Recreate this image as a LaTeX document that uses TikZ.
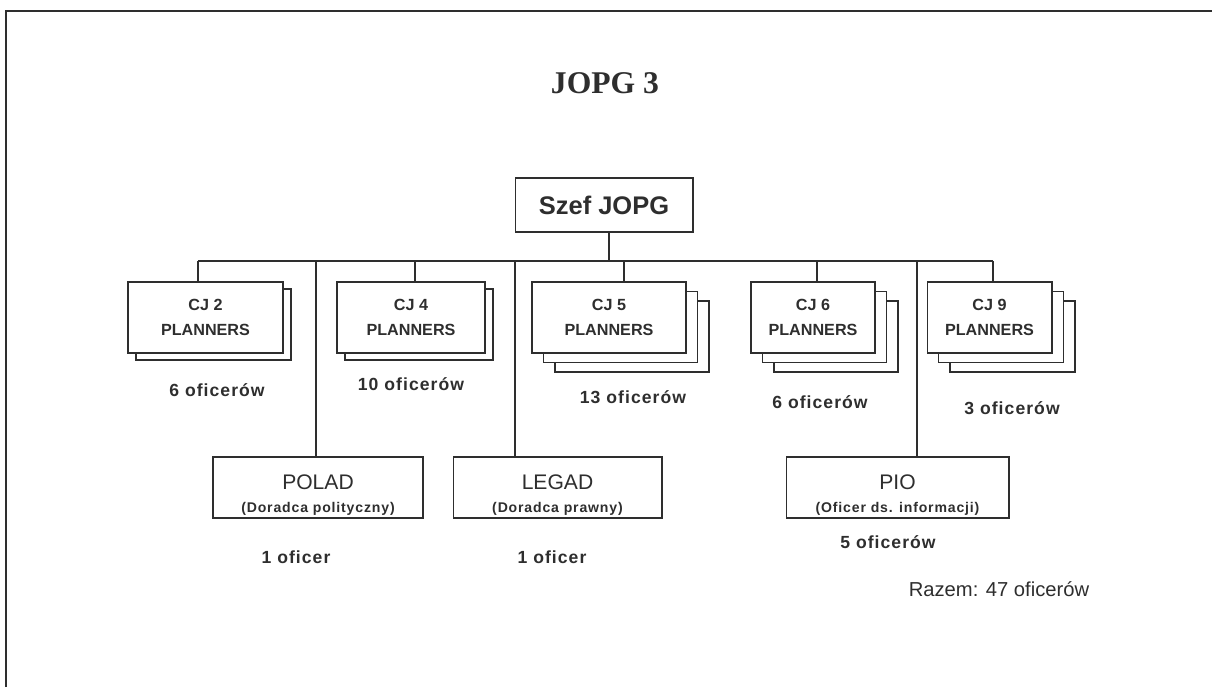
\documentclass[tikz,border=0pt]{standalone}
\usepackage{fontspec}
\setmainfont{Liberation Sans}
\newfontfamily\titlefont{Liberation Serif}
\newfontfamily\widesans[LetterSpace=6]{Liberation Sans}
\usetikzlibrary{shadows}
\definecolor{ink}{HTML}{2E2E2E}

\begin{document}
\begin{tikzpicture}[x=0.02cm,y=-0.02cm,
		link/.style={draw=ink, line width=0.6pt},
		planbox/.style={draw=ink, line width=0.6pt, fill=white, align=center, inner sep=0pt,
			minimum height=1.42cm, text=ink, font=\fontsize{9.2}{14}\selectfont\bfseries},
		advbox/.style={draw=ink, line width=0.6pt, fill=white, align=center, inner sep=0pt,
			minimum height=1.22cm, text=ink},
		stack/.style={copy shadow={shadow xshift=0.16cm, shadow yshift=-0.14cm}},
		stackthree/.style={double copy shadow={shadow xshift=0.23cm, shadow yshift=-0.19cm}},
		count/.style={text=ink, font=\widesans\fontsize{10}{12}\selectfont\bfseries}]
	\useasboundingbox (0,0) rectangle (1212,687);
	\draw[ink, line width=0.8pt] (6,687) -- (6,11) -- (1212,11);

	\node[text=ink, font=\titlefont\bfseries\fontsize{18}{20}\selectfont] (title) at (605,83) {JOPG 3};
	\node[draw=ink, line width=0.6pt, minimum width=3.56cm, minimum height=1.08cm, text=ink,
		font=\fontsize{14.5}{16}\selectfont\bfseries] (szef) at (604,205) {Szef JOPG};

	% planners
	\node[planbox, stack, minimum width=3.1cm]       (cj2) at (205.5,317.5) {CJ 2\\PLANNERS};
	\node[planbox, stack, minimum width=2.96cm]      (cj4) at (411,317.5)   {CJ 4\\PLANNERS};
	\node[planbox, stackthree, minimum width=3.08cm] (cj5) at (609,317.5)   {CJ 5\\PLANNERS};
	\node[planbox, stackthree, minimum width=2.48cm] (cj6) at (813,317.5)   {CJ 6\\PLANNERS};
	\node[planbox, stackthree, minimum width=2.5cm]  (cj9) at (989.5,317.5) {CJ 9\\PLANNERS};

	% advisers
	\node[advbox, minimum width=4.2cm]  (polad) at (318,487.5)
		{{\fontsize{12}{14}\selectfont\rule{0pt}{17pt}POLAD}\\[1pt]{\widesans\fontsize{8}{10}\selectfont\bfseries (Doradca polityczny)}};
	\node[advbox, minimum width=4.18cm] (legad) at (557.5,487.5)
		{{\fontsize{12}{14}\selectfont\rule{0pt}{17pt}LEGAD}\\[1pt]{\widesans\fontsize{8}{10}\selectfont\bfseries (Doradca prawny)}};
	\node[advbox, minimum width=4.46cm] (pio) at (897.5,487.5)
		{{\fontsize{12}{14}\selectfont\rule{0pt}{17pt}PIO}\\[1pt]{\widesans\fontsize{8}{10}\selectfont\bfseries (Oficer ds. informacji)}};

	% bus
	\coordinate (bcj2) at (198,261);
	\coordinate (bpolad) at (316,261);
	\coordinate (bcj4) at (415,261);
	\coordinate (blegad) at (515,261);
	\coordinate (bszef) at (609,261);
	\coordinate (bcj5) at (624,261);
	\coordinate (bcj6) at (817,261);
	\coordinate (bpio) at (917,261);
	\coordinate (bcj9) at (993,261);
	\draw[link] (bcj2) -- (bcj9);
	\draw[link] (bszef) -- (bszef |- szef.south);
	\foreach \n in {cj2,cj4,cj5,cj6,cj9,polad,legad,pio}
		\draw[link] (b\n) -- (b\n |- \n.north);

	% head counts
	\node[count] (n2)     at (217,390) {6 oficerów};
	\node[count] (n4)     at (411,384) {10 oficerów};
	\node[count] (n5)     at (633,397) {13 oficerów};
	\node[count] (n6)     at (820,402) {6 oficerów};
	\node[count] (n9)     at (1012,408) {3 oficerów};
	\node[count] (npolad) at (296,557) {1 oficer};
	\node[count] (nlegad) at (552,557) {1 oficer};
	\node[count] (npio)   at (888,542) {5 oficerów};
	\node[text=ink, font=\fontsize{11.5}{13}\selectfont] (razem) at (999,589) {Razem: 47 oficerów};
\end{tikzpicture}
\end{document}
